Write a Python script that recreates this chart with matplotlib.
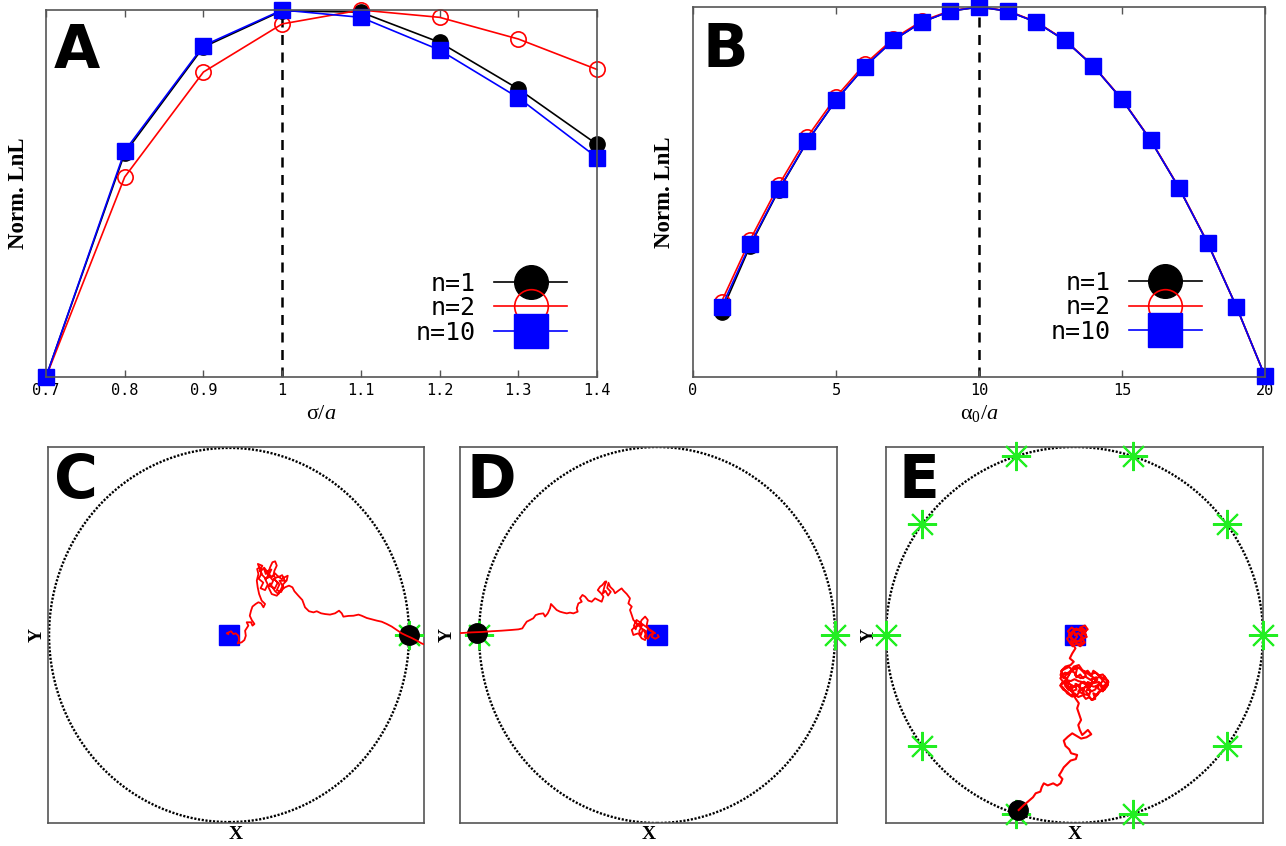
import numpy as np
import matplotlib
matplotlib.use('Agg')
import matplotlib.pyplot as plt
from matplotlib.patches import Circle

plt.rcParams['mathtext.fontset'] = 'custom'
plt.rcParams['mathtext.rm'] = 'Liberation Serif'
plt.rcParams['mathtext.it'] = 'Liberation Serif:italic'
plt.rcParams['mathtext.bf'] = 'Liberation Serif:bold'

# ---- panel A : normalised LnL vs sigma/a
sigma = [0.7, 0.8, 0.9, 1.0, 1.1, 1.2, 1.3, 1.4]
lnlA_n1 = [0.0, 0.61, 0.899, 0.998, 0.994, 0.912, 0.785, 0.634]
lnlA_n2 = [0.0, 0.545, 0.831, 0.962, 1.0, 0.98, 0.921, 0.838]
lnlA_n10 = [0.0, 0.616, 0.903, 1.0, 0.98, 0.891, 0.761, 0.598]
ticksA = [0.7, 0.8, 0.9, 1.0, 1.1, 1.2, 1.3, 1.4]
ticklabA = ['0.7', '0.8', '0.9', '1', '1.1', '1.2', '1.3', '1.4']

# ---- panel B : normalised LnL vs alpha0/a
alpha0 = list(range(1, 21))
lnlB_n1 = [0.177, 0.355, 0.505, 0.637, 0.748, 0.838, 0.91, 0.959, 0.989, 1.0,
           0.989, 0.959, 0.91, 0.84, 0.75, 0.64, 0.51, 0.361, 0.19, 0.002]
lnlB_n2 = [0.204, 0.371, 0.519, 0.649, 0.757, 0.845, 0.914, 0.962, 0.99, 1.0,
           0.99, 0.96, 0.911, 0.841, 0.751, 0.641, 0.511, 0.362, 0.19, 0.002]
lnlB_n10 = [0.189, 0.359, 0.507, 0.638, 0.748, 0.838, 0.91, 0.959, 0.989, 1.0,
            0.989, 0.959, 0.91, 0.84, 0.75, 0.64, 0.51, 0.361, 0.19, 0.002]
ticksB = [0, 5, 10, 15, 20]
ticklabB = ['0', '5', '10', '15', '20']

series_labels = ['n=1', 'n=2', 'n=10']

# ---- panels C, D, E : walks inside the unit circle
walkC_x = [-0.004, -0.013, 0.011, 0.024, 0.037, 0.052, 0.056, 0.048, 0.070, 0.085, 0.093, 0.089,
           0.107, 0.098, 0.122, 0.130, 0.141, 0.126, 0.115, 0.122, 0.130, 0.148, 0.163, 0.178,
           0.191, 0.200, 0.181, 0.167, 0.159, 0.154, 0.163, 0.156, 0.172,
           0.180, 0.165, 0.190, 0.175, 0.200, 0.215, 0.200, 0.225, 0.210, 0.235, 0.220, 0.245,
           0.230, 0.255, 0.270, 0.250, 0.280, 0.265, 0.290, 0.300, 0.280, 0.310, 0.295, 0.275,
           0.255, 0.240, 0.220, 0.205, 0.185, 0.170, 0.185, 0.160, 0.175, 0.195, 0.215,
           0.196, 0.204, 0.219,
           0.228, 0.241, 0.256, 0.265, 0.252, 0.246, 0.259, 0.274, 0.293, 0.307, 0.326, 0.320,
           0.302, 0.289, 0.274, 0.256, 0.241, 0.228, 0.219, 0.237, 0.265, 0.293, 0.311, 0.333,
           0.352, 0.363, 0.385, 0.407, 0.415, 0.422, 0.444, 0.469, 0.487, 0.511, 0.533, 0.561,
           0.589, 0.611, 0.626, 0.635, 0.663, 0.691, 0.719, 0.737, 0.765, 0.793, 0.820, 0.848,
           0.876, 0.904, 0.931, 0.959, 0.987, 1.015, 1.043, 1.070, 1.089]
walkC_y = [0.005, 0.009, 0.020, 0.005, 0.009, -0.004, -0.027, -0.045, -0.039, -0.027, -0.004, 0.023,
           0.050, 0.068, 0.068, 0.050, 0.059, 0.080, 0.103, 0.130, 0.152, 0.166, 0.175, 0.169,
           0.148, 0.166, 0.184, 0.219, 0.255, 0.291, 0.326, 0.353, 0.362,
           0.330, 0.300, 0.280, 0.250, 0.240, 0.270, 0.300, 0.310, 0.340, 0.350, 0.320, 0.290,
           0.260, 0.250, 0.280, 0.300, 0.270, 0.240, 0.230, 0.260, 0.290, 0.290, 0.320, 0.310,
           0.330, 0.310, 0.325, 0.300, 0.320, 0.345, 0.370, 0.380, 0.340, 0.360, 0.335,
           0.348, 0.326, 0.335,
           0.362, 0.389, 0.394, 0.371, 0.344, 0.317, 0.305, 0.312, 0.299, 0.308, 0.317, 0.291,
           0.273, 0.246, 0.219, 0.234, 0.255, 0.276, 0.255, 0.219, 0.210, 0.241, 0.255, 0.264,
           0.255, 0.234, 0.210, 0.187, 0.166, 0.148, 0.127, 0.121, 0.127, 0.116, 0.112, 0.109,
           0.116, 0.130, 0.116, 0.098, 0.102, 0.103, 0.109, 0.103, 0.091, 0.084, 0.077, 0.071,
           0.059, 0.045, 0.027, 0.009, -0.004, -0.016, -0.030, -0.045, -0.052]

walkD_x = [0.004, 0.010, -0.010, -0.030, -0.020, -0.040, -0.050, -0.070, -0.060, -0.080, -0.090,
           -0.100, -0.085, -0.110, -0.120, -0.130, -0.115,
           -0.011, -0.030, -0.049, -0.058, -0.052, -0.067, -0.086, -0.101, -0.124, -0.142,
           -0.133, -0.105, -0.086, -0.067, -0.058, -0.077, -0.096, -0.114, -0.133, -0.142, -0.152,
           -0.142, -0.161, -0.152, -0.170, -0.189, -0.199, -0.217, -0.236, -0.245, -0.264, -0.273,
           -0.280, -0.260, -0.275, -0.290, -0.305, -0.295, -0.285,
           -0.292, -0.307, -0.320, -0.333, -0.315, -0.301, -0.311, -0.330, -0.348, -0.367, -0.386,
           -0.404, -0.419, -0.433, -0.423, -0.442, -0.451, -0.446, -0.470, -0.489, -0.507, -0.526,
           -0.545, -0.564, -0.582, -0.596, -0.601, -0.614, -0.629, -0.639, -0.663, -0.682, -0.695,
           -0.713, -0.732, -0.745, -0.757, -0.779, -0.816, -0.873, -0.929, -0.985, -1.041, -1.107]
walkD_y = [0.0, -0.010, -0.020, -0.010, 0.010, 0.000, -0.020, -0.010, 0.020, 0.030, 0.000,
           0.020, 0.050, 0.060, 0.030, 0.050, 0.080,
           0.009, 0.018, 0.030, 0.053, 0.080, 0.098, 0.080, 0.053, 0.044, 0.027,
           0.0, 0.009, -0.018, -0.027, 0.0, 0.027, 0.044, 0.062, 0.080, 0.106, 0.133,
           0.151, 0.168, 0.195, 0.218, 0.236, 0.248, 0.236, 0.222, 0.239, 0.257, 0.278,
           0.250, 0.230, 0.210, 0.235, 0.220, 0.260, 0.285,
           0.284, 0.266, 0.257, 0.239, 0.222, 0.204, 0.177, 0.186, 0.195, 0.177, 0.183,
           0.204, 0.213, 0.195, 0.177, 0.168, 0.142, 0.124, 0.115, 0.119, 0.115, 0.119,
           0.124, 0.133, 0.151, 0.165, 0.142, 0.115, 0.098, 0.115, 0.112, 0.106, 0.089,
           0.080, 0.071, 0.053, 0.035, 0.030, 0.027, 0.023, 0.020, 0.016, 0.014, 0.010]

walkE_x = [0.002, 0.020, 0.040, 0.025, 0.045, 0.020, 0.000, -0.020, -0.015, -0.030, -0.010, 0.010,
           0.030, 0.050, 0.060, 0.040,
           0.030, 0.055, 0.070, 0.050, 0.065, 0.040, 0.055, 0.030, 0.010, -0.010, -0.025, -0.040,
           -0.020, -0.035, -0.015, 0.005,
           0.014, 0.041, 0.059, 0.032, 0.050, 0.023, -0.004, -0.021, -0.004, 0.014, -0.012,
           0.005, -0.012, -0.025, -0.004, -0.021, -0.048, -0.066, -0.074, -0.057, -0.039, -0.012,
           0.014, 0.005, 0.032, 0.059, 0.085, 0.112, 0.138, 0.174, 0.177, 0.156, 0.129, 0.112,
           0.094, 0.076, 0.085, 0.059, 0.032, 0.014, -0.012, -0.039, -0.057, -0.074, -0.060,
           -0.030, -0.004, 0.023, 0.050, 0.076, 0.103, 0.129, 0.147,
           0.160, 0.175, 0.165, 0.140, 0.150, 0.125, 0.130, 0.105, 0.115, 0.090, 0.095, 0.070,
           0.080, 0.060, 0.075, 0.050, 0.045, 0.025, 0.030, 0.005, 0.010, -0.015, -0.010, -0.035,
           -0.030, -0.055, -0.045, -0.065, -0.050, -0.030, -0.020, 0.000, 0.010, 0.030, 0.045,
           0.060, 0.050, 0.075, 0.090, 0.100, 0.120, 0.135,
           0.150, 0.170, 0.155, 0.160, 0.135, 0.120, 0.100, 0.110, 0.090, 0.080, 0.060, 0.045,
           0.020, 0.000, -0.020, -0.040, -0.060, -0.075, -0.060, -0.075, -0.060, -0.070, -0.050,
           -0.030, -0.010, 0.010, 0.030, 0.050, 0.070, 0.085, 0.110, 0.130, 0.150, 0.165, 0.180,
           0.170, 0.150, 0.140, 0.120, 0.110, 0.090, 0.070, 0.085, 0.060, 0.040, 0.020, 0.000,
           -0.020, -0.040, -0.050, -0.030, -0.010, 0.010, 0.030, 0.050, 0.040, 0.020,
           0.121, 0.094, 0.067, 0.041,
           0.023, -0.004, -0.030, -0.048, -0.039, -0.012, 0.005, 0.023, 0.014, 0.023, 0.035,
           0.020, 0.028, 0.041, 0.071, 0.089, 0.064, 0.035, 0.011, -0.012, -0.035, -0.057,
           -0.048, -0.028, -0.018, 0.014, 0.007, -0.021, -0.039, -0.057, -0.071, -0.082, -0.064,
           -0.074, -0.092, -0.113, -0.142, -0.163, -0.174, -0.181, -0.206, -0.220, -0.248, -0.270,
           -0.296]
walkE_y = [0.0, 0.010, -0.010, -0.030, -0.045, -0.050, -0.035, -0.045, -0.020, 0.000, 0.020, 0.035,
           0.020, 0.030, 0.000, 0.010,
           0.040, 0.050, 0.030, 0.015, -0.010, -0.020, -0.040, -0.060, -0.045, -0.060, -0.040,
           -0.020, 0.000, 0.020, 0.040, 0.025,
           0.027, 0.035, 0.018, 0.0, -0.018, -0.035, -0.027, -0.009, 0.018, -0.009, -0.044,
           -0.071, -0.098, -0.124, -0.142, -0.160, -0.168, -0.186, -0.213, -0.230, -0.204, -0.186,
           -0.177, -0.213, -0.230, -0.222, -0.239, -0.230, -0.222, -0.239, -0.266, -0.293, -0.301,
           -0.328, -0.346, -0.328, -0.293, -0.275, -0.293, -0.319, -0.328, -0.310, -0.284, -0.266,
           -0.248, -0.257, -0.275, -0.266, -0.248, -0.266, -0.275, -0.266, -0.248,
           -0.220, -0.250, -0.280, -0.270, -0.300, -0.285, -0.250, -0.255, -0.225, -0.235, -0.260,
           -0.250, -0.280, -0.300, -0.320, -0.315, -0.285, -0.300, -0.270, -0.260, -0.290, -0.300,
           -0.270, -0.280, -0.250, -0.260, -0.230, -0.220, -0.200, -0.210, -0.190, -0.200, -0.225,
           -0.210, -0.230, -0.215, -0.195, -0.200, -0.215, -0.190, -0.205, -0.225,
           -0.240, -0.260, -0.270, -0.290, -0.300, -0.320, -0.310, -0.340, -0.345, -0.330, -0.340,
           -0.320, -0.330, -0.310, -0.320, -0.300, -0.290, -0.270, -0.250, -0.230, -0.210, -0.190,
           -0.180, -0.170, -0.185, -0.170, -0.180, -0.200, -0.190, -0.210, -0.200, -0.215, -0.210,
           -0.230, -0.250, -0.275, -0.280, -0.260, -0.270, -0.290, -0.300, -0.290, -0.270, -0.265,
           -0.250, -0.245, -0.235, -0.245, -0.240, -0.270, -0.290, -0.280, -0.265, -0.280, -0.290,
           -0.310, -0.300,
           -0.239, -0.222, -0.204, -0.186,
           -0.160, -0.168, -0.213, -0.248, -0.284, -0.301, -0.337, -0.363, -0.390, -0.417, -0.452,
           -0.479, -0.505, -0.532, -0.505, -0.528, -0.544, -0.551, -0.537, -0.523, -0.541, -0.562,
           -0.590, -0.608, -0.629, -0.638, -0.660, -0.668, -0.686, -0.704, -0.729, -0.746, -0.766,
           -0.789, -0.801, -0.789, -0.800, -0.789, -0.810, -0.833, -0.842, -0.863, -0.887, -0.906,
           -0.931]

# start (blue square), end (black dot), targets (green stars)
startC, endC = (0.0, 0.0), (1.0, 0.0)
startD, endD = (0.0, 0.0), (-1.01, 0.01)
startE, endE = (0.0, 0.0), (-0.30, -0.93)
targetsC_x, targetsC_y = [1.0], [0.0]
targetsD_x, targetsD_y = [1.0, -1.0], [0.0, 0.0]
targetsE_x = [1.0, 0.809, 0.309, -0.309, -0.809, -1.0, -0.809, -0.309, 0.309, 0.809]
targetsE_y = [0.0, 0.588, 0.951, 0.951, 0.588, 0.0, -0.588, -0.951, -0.951, -0.588]

W, H = 1286, 846
fig = plt.figure(figsize=(W / 100, H / 100), dpi=100)


def px_axes(left, top, right, bottom):
    return fig.add_axes([left / W, 1 - bottom / H, (right - left) / W, (bottom - top) / H])


spine_col = '#555555'
mono = 'DejaVu Sans Mono'
serif = 'Liberation Serif'


def style_frame(ax):
    for s in ax.spines.values():
        s.set_color(spine_col)
        s.set_linewidth(1.2)


def panel_letter(ax, letter, dx, dy):
    ax.annotate(letter, xy=(0, 1), xycoords='axes fraction', xytext=(dx, -dy),
                textcoords='offset pixels', ha='left', va='top', fontsize=43,
                fontweight='bold', family='DejaVu Sans', color='black')


def lnl_panel(ax, x, y1, y2, y10, ticks, ticklabels, xlim, vline, xlabel, leg_x):
    ax.plot(x, y1, '-o', color='black', lw=1.2, ms=11, mfc='black', mec='black',
            clip_on=False, label=series_labels[0])
    ax.plot(x, y2, '-o', color='red', lw=1.2, ms=11, mfc='none', mec='red', mew=1.2,
            clip_on=False, label=series_labels[1])
    ax.plot(x, y10, '-s', color='blue', lw=1.2, ms=11, mfc='blue', mec='blue',
            clip_on=False, label=series_labels[2])
    ax.axvline(vline, color='black', lw=1.8, ls=(0, (4, 3)), zorder=1)
    ax.set_xlim(*xlim)
    ax.set_ylim(0, 1)
    ax.set_yticks([])
    ax.set_xticks(ticks)
    ax.set_xticklabels(ticklabels, fontfamily=mono, fontsize=11)
    ax.tick_params(axis='x', direction='in', top=True, length=5, width=1,
                   color=spine_col, pad=4)
    ax.set_xlabel(xlabel, fontsize=16, va='center')
    ax.xaxis.set_label_coords(0.5, -0.098)
    ax.set_ylabel('Norm. LnL', fontsize=16.5, fontweight='bold', family=serif, va='center')
    ax.yaxis.set_label_coords(-0.05, 0.5)
    ax.legend(loc='center', bbox_to_anchor=(leg_x, 0.188), frameon=False,
              markerfirst=False, markerscale=2.2, handlelength=2.9,
              handletextpad=0.75, labelspacing=0.02, borderpad=0,
              prop={'family': mono, 'size': 18})
    style_frame(ax)


axA = px_axes(46, 10, 597, 377)
lnl_panel(axA, sigma, lnlA_n1, lnlA_n2, lnlA_n10, ticksA, ticklabA, (0.7, 1.4), 1.0,
          r'$\mathrm{\sigma}/a$', 0.808)
panel_letter(axA, 'A', 8, 12)

axB = px_axes(693, 7, 1265, 377)
lnl_panel(axB, alpha0, lnlB_n1, lnlB_n2, lnlB_n10, ticksB, ticklabB, (0, 20), 10,
          r'$\mathrm{\alpha}_0/a$', 0.757)
panel_letter(axB, 'B', 9, 14)


def walk_panel(ax, wx, wy, start, end, tx, ty, xlim, ylim, ylab_x, letter, ldx, wlw):
    ax.add_patch(Circle((0, 0), 1.0, fill=False, edgecolor='black', lw=1.7,
                        ls=(0, (0.9, 0.7))))
    ax.plot(tx, ty, ls='none', marker=(8, 2, 0), ms=21, mew=1.5, color='#22ee22',
            clip_on=False, zorder=3)
    ax.plot([end[0]], [end[1]], 'o', color='black', ms=14, clip_on=False, zorder=4)
    ax.plot([start[0]], [start[1]], 's', color='blue', ms=14, clip_on=False, zorder=4)
    ax.plot(wx, wy, '-', color='red', lw=wlw, zorder=5)
    ax.set_xlim(*xlim)
    ax.set_ylim(*ylim)
    ax.set_xticks([])
    ax.set_yticks([])
    ax.set_xlabel('X', fontsize=14, fontweight='bold', family=serif, va='center')
    ax.xaxis.set_label_coords(0.5, -0.03)
    ax.set_ylabel('Y', fontsize=14, fontweight='bold', family=serif, va='center')
    ax.yaxis.set_label_coords(ylab_x, 0.5)
    style_frame(ax)
    panel_letter(ax, letter, ldx, 5)


axC = px_axes(48, 447, 424, 823)
walk_panel(axC, walkC_x, walkC_y, startC, endC, targetsC_x, targetsC_y,
           (-1.006, 1.083), (-1.005, 1.005), -0.029, 'C', 6, 1.3)

axD = px_axes(460, 447, 837, 823)
walk_panel(axD, walkD_x, walkD_y, startD, endD, targetsD_x, targetsD_y,
           (-1.107, 1.011), (-1.0, 1.0), -0.034, 'D', 6, 1.3)

axE = px_axes(886, 447, 1263, 823)
walk_panel(axE, walkE_x, walkE_y, startE, endE, targetsE_x, targetsE_y,
           (-1.0, 1.0), (-1.0, 1.0), -0.045, 'E', 13, 1.5)

fig.savefig('out.png', dpi=100)
